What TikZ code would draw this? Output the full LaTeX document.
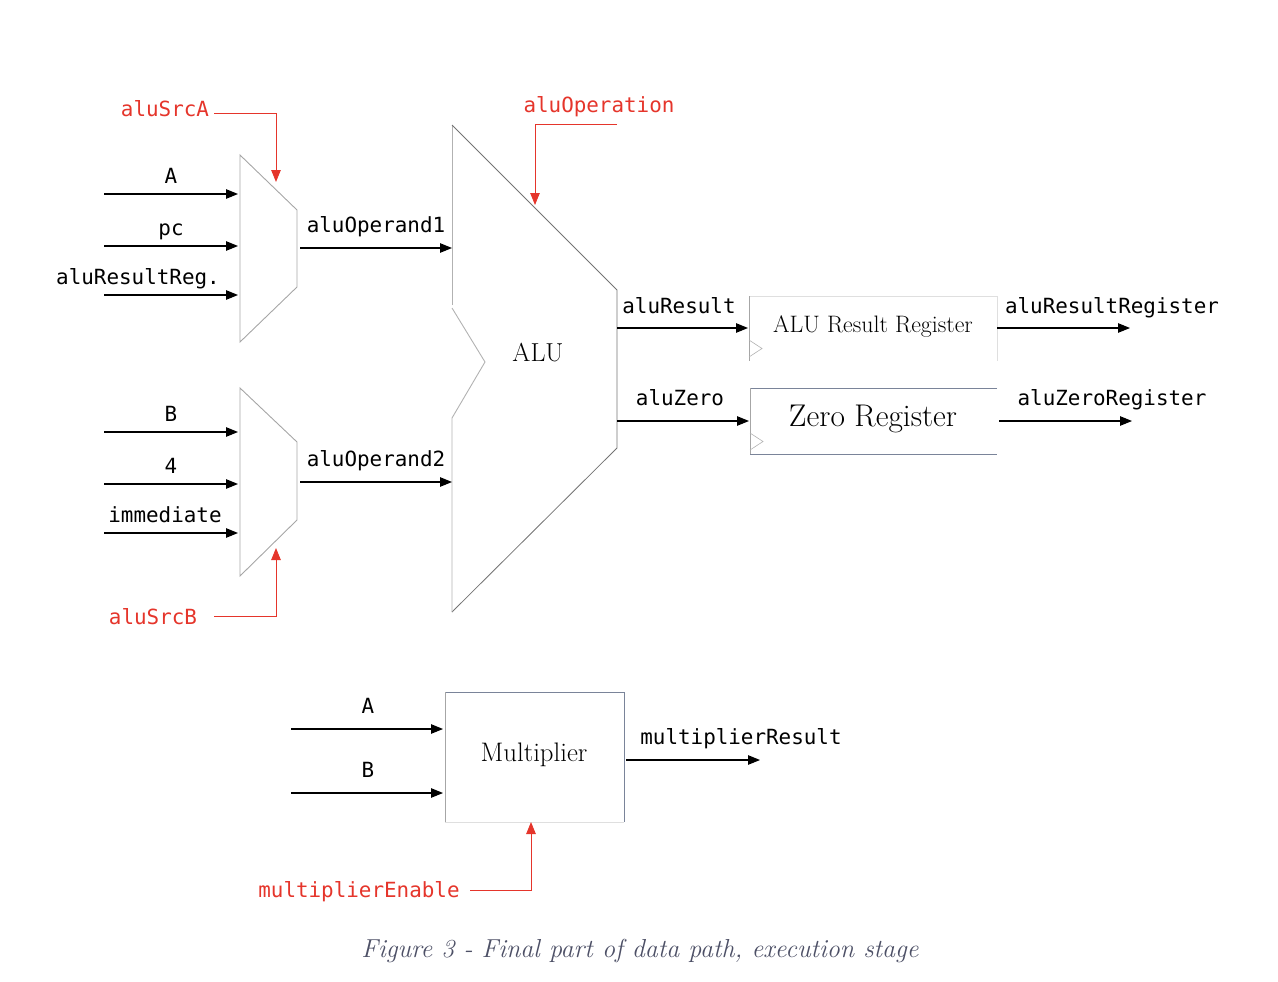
\documentclass[tikz,border=0pt]{standalone}
\usepackage{fontspec}
\setmonofont{DejaVu Sans Mono}
\usetikzlibrary{arrows.meta}
\definecolor{sigred}{HTML}{E5352B}
\definecolor{boxedge}{HTML}{7A8499}
\definecolor{capcol}{HTML}{4D5066}
\begin{document}
\begin{tikzpicture}[x=1pt,y=-1pt,
  sig/.style={font=\ttfamily\fontsize{20.9}{24}\selectfont, anchor=base, inner sep=0pt},
  ctl/.style={sig, text=sigred},
  wire/.style={draw=black, line width=1.1pt, -{Triangle[length=12pt,width=9.5pt]}},
  ctlwire/.style={draw=sigred, line width=0.9pt, -{Triangle[length=12pt,width=9.5pt]}},
  unit/.style={draw=gray!70, line width=0.9pt},
  regbox/.style={draw=boxedge, line width=0.8pt},
  lbl/.style={inner sep=0pt}
]
\useasboundingbox (0,0) rectangle (1278,982);

% ---------- Mux A ----------
\draw[unit] (240,155) -- (297,210) -- (297,287) -- (240,342) -- cycle;
\coordinate (muxAa) at (238,194);
\coordinate (muxAb) at (238,246);
\coordinate (muxAc) at (238,295);
\coordinate (muxAout) at (300,248);
\coordinate (muxActl) at (276,182);
\coordinate (inA) at (104,194);
\coordinate (inPC) at (104,246);
\coordinate (inARR) at (104,295);
\draw[wire] (inA) -- (muxAa);
\draw[wire] (inPC) -- (muxAb);
\draw[wire] (inARR) -- (muxAc);
\node[sig] (lA) at (171,183) {A};
\node[sig] (lPC) at (171,235) {pc};
\node[sig] (lARR) at (138,284) {aluResultReg.};
\node[ctl] (srcA) at (165,117) {aluSrcA};
\coordinate (srcAend) at (214,113);
\draw[ctlwire] (srcAend) -- (276,113) -- (muxActl);

% ---------- Mux B ----------
\draw[unit] (240,388) -- (297,442) -- (297,520) -- (240,576) -- cycle;
\coordinate (muxBa) at (238,432);
\coordinate (muxBb) at (238,484);
\coordinate (muxBc) at (238,533);
\coordinate (muxBout) at (300,482);
\coordinate (muxBctl) at (276,548);
\coordinate (inB) at (104,432);
\coordinate (inFour) at (104,484);
\coordinate (inImm) at (104,533);
\draw[wire] (inB) -- (muxBa);
\draw[wire] (inFour) -- (muxBb);
\draw[wire] (inImm) -- (muxBc);
\node[sig] (lB) at (171,421) {B};
\node[sig] (lFour) at (171,473) {4};
\node[sig] (lImm) at (165,522) {immediate};
\node[ctl] (srcB) at (153,624) {aluSrcB};
\coordinate (srcBend) at (214,616);
\draw[ctlwire] (srcBend) -- (276,616) -- (muxBctl);

% ---------- ALU ----------
\draw[draw=gray!60, line width=0.9pt] (452,305) -- (452,125);
\draw[draw=gray!90!black, line width=0.8pt] (452,125) -- (617,290) -- (617,448) -- (452,612);
\draw[draw=gray!60, line width=0.9pt] (452,612) -- (452,418) -- (485,362) -- (452,308);
\node[lbl, font=\fontsize{26}{30}\selectfont] (alu) at (538,353) {ALU};
\coordinate (aluIn1) at (452,248);
\coordinate (aluIn2) at (452,482);
\coordinate (aluRes) at (617,328);
\coordinate (aluZ) at (617,421);
\coordinate (aluCtl) at (535,205);
\draw[wire] (muxAout) -- (aluIn1);
\draw[wire] (muxBout) -- (aluIn2);
\node[sig] (lOp1) at (376,232) {aluOperand1};
\node[sig] (lOp2) at (376,466) {aluOperand2};
\node[ctl] (aluOp) at (599,113) {aluOperation};
\coordinate (aluOpend) at (617,124);
\draw[ctlwire] (aluOpend) -- (535,124) -- (aluCtl);

% ---------- Registers ----------
\path[fill=white] (749,296) rectangle (997,361);
\draw[draw=gray!25, line width=0.8pt] (749,296) -- (997,296) -- (997,361);
\draw[draw=gray!70, line width=0.8pt] (749,296) -- (749,361);
\draw[draw=gray!60, line width=0.6pt] (749,340) -- (762,348.5) -- (749,357);
\node[lbl, font=\fontsize{23.8}{27}\selectfont] (resReg) at (873,327) {ALU Result Register};
\coordinate (resRegIn) at (748,328);
\coordinate (resRegOut) at (997,328);
\coordinate (resRegEnd) at (1130,328);

\draw[regbox] (997,388) -- (750,388);
\draw[regbox] (750,454) -- (997,454);
\draw[draw=gray!70, line width=0.8pt] (750,388) -- (750,454);
\draw[draw=gray!60, line width=0.6pt] (750,433) -- (763,441.5) -- (750,450);
\node[lbl, font=\fontsize{31.4}{35}\selectfont] (zeroReg) at (873,419) {Zero Register};
\coordinate (zeroRegIn) at (749,421);
\coordinate (zeroRegOut) at (999,421);
\coordinate (zeroRegEnd) at (1132,421);

\draw[wire] (aluRes) -- (resRegIn);
\draw[wire] (aluZ) -- (zeroRegIn);
\draw[wire] (resRegOut) -- (resRegEnd);
\draw[wire] (zeroRegOut) -- (zeroRegEnd);
\node[sig] (lRes) at (679,313) {aluResult};
\node[sig] (lZero) at (680,405) {aluZero};
\node[sig] (lResR) at (1112,313) {aluResultRegister};
\node[sig] (lZeroR) at (1112,405) {aluZeroRegister};

% ---------- Multiplier ----------
\draw[regbox] (445,692) -- (624,692) -- (624,822);
\draw[draw=gray!70, line width=0.8pt] (445,692) -- (445,822);
\draw[draw=gray!25, line width=0.8pt] (445,822) -- (624,822);
\node[lbl, font=\fontsize{26.8}{30}\selectfont] (mult) at (534,755) {Multiplier};
\coordinate (multA) at (443,729);
\coordinate (multB) at (443,793);
\coordinate (multOut) at (626,760);
\coordinate (multCtl) at (531,822);
\coordinate (mA) at (291,729);
\coordinate (mB) at (291,793);
\coordinate (mRes) at (760,760);
\draw[wire] (mA) -- (multA);
\draw[wire] (mB) -- (multB);
\draw[wire] (multOut) -- (mRes);
\node[sig] (lmA) at (368,713) {A};
\node[sig] (lmB) at (368,777) {B};
\node[sig] (lmRes) at (741,744) {multiplierResult};
\node[ctl] (mEn) at (359,897) {multiplierEnable};
\coordinate (mEnend) at (470,890);
\draw[ctlwire] (mEnend) -- (531,890) -- (multCtl);

% ---------- Caption ----------
\node[lbl, anchor=base, text=capcol, font=\itshape\fontsize{26}{30}\selectfont] (cap) at (640,957) {Figure 3 - Final part of data path, execution stage};
\end{tikzpicture}
\end{document}
